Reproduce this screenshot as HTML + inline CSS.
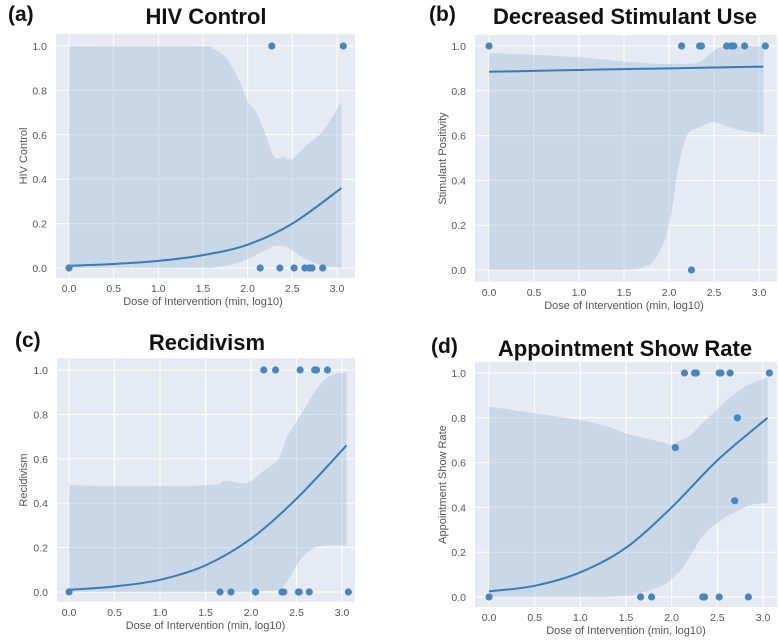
<!DOCTYPE html>
<html><head><meta charset="utf-8"><style>
body{margin:0;background:#fff;width:778px;height:643px;overflow:hidden;font-family:"Liberation Sans",sans-serif}
svg{display:block}
</style></head><body>
<svg id="fig" width="778" height="643" xmlns="http://www.w3.org/2000/svg"></svg>
<script>
// Shared
const xTicks=[0,0.5,1,1.5,2,2.5,3];
const yTicks=[0,0.2,0.4,0.6,0.8,1];
const curveX=[0,0.5,1,1.5,2,2.5,3.05];
// Panel a
const aOnesX=[2.27,3.07];
const aZerosX=[0,2.14,2.36,2.52,2.64,2.69,2.72,2.84];
const aCurve=[0.01,0.018,0.032,0.058,0.105,0.2,0.36];
const aBandX=[0,1.5,1.6,1.75,1.9,2.0,2.1,2.2,2.3,2.4,2.5,2.65,2.85,3.05];
const aUpper=[1,1,0.99,0.95,0.85,0.75,0.7,0.6,0.5,0.5,0.49,0.55,0.62,0.75];
const aLower=[0,0,0.003,0.01,0.025,0.04,0.06,0.08,0.1,0.1,0.08,0.04,0.01,0];
// Panel b
const bOnesX=[0,2.14,2.34,2.36,2.64,2.69,2.72,2.84,3.07];
const bZerosX=[2.25];
const bCurve=[0.885,0.889,0.893,0.897,0.9,0.904,0.908];
const bBandX=[0,1.0,1.5,1.7,1.85,2.0,2.1,2.2,2.35,2.5,2.65,2.85,3.05];
const bUpper=[0.97,0.95,0.93,0.925,0.92,0.92,0.92,0.92,0.93,0.98,1,1,1];
const bLower=[0,0,0,0.01,0.05,0.2,0.45,0.6,0.64,0.66,0.64,0.62,0.61];
// Panel c
const cOnesX=[2.14,2.27,2.54,2.70,2.72,2.84];
const cZerosX=[0,1.66,1.78,2.05,2.34,2.36,2.52,2.53,2.64,3.07];
const cCurve=[0.01,0.025,0.055,0.12,0.24,0.42,0.66];
const cBandX=[0,0.1,1.5,1.7,1.9,2.0,2.15,2.3,2.4,2.55,2.7,2.85,3.05];
const cUpper=[0.49,0.48,0.48,0.5,0.49,0.5,0.55,0.6,0.7,0.8,0.9,0.97,0.99];
const cLower=[0,0,0,0,0,0,0.005,0.01,0.05,0.15,0.2,0.21,0.21];
// Panel d
const dPtsX=[2.14,2.25,2.27,2.52,2.54,2.64,3.07,2.72,2.04,2.69,0,1.66,1.78,2.34,2.36,2.52,2.84];
const dPtsY=[1,1,1,1,1,1,1,0.8,0.667,0.43,0,0,0,0,0,0,0];
const dCurve=[0.025,0.05,0.11,0.22,0.40,0.61,0.80];
const dBandX=[0,0.5,1.0,1.3,1.5,1.6,1.9,2.0,2.1,2.2,2.3,2.4,2.5,2.6,2.7,2.8,2.85,3.05];
const dUpper=[0.85,0.82,0.79,0.76,0.73,0.72,0.69,0.68,0.7,0.72,0.76,0.8,0.84,0.88,0.91,0.94,0.95,0.98];
const dLower=[0,0,0,0,0.005,0.01,0.05,0.08,0.12,0.18,0.25,0.3,0.33,0.36,0.38,0.4,0.41,0.42];

const NS="http://www.w3.org/2000/svg";
const svg=document.getElementById('fig');
function mk(tag,attrs,parent){const e=document.createElementNS(NS,tag);for(const k in attrs)e.setAttribute(k,attrs[k]);(parent||svg).appendChild(e);return e;}
function smooth(pts){let d='M'+pts[0][0]+','+pts[0][1];for(let i=0;i<pts.length-1;i++){const p0=pts[i-1]||pts[i],p1=pts[i],p2=pts[i+1],p3=pts[i+2]||p2;d+=' C'+(p1[0]+(p2[0]-p0[0])/6)+','+(p1[1]+(p2[1]-p0[1])/6)+' '+(p2[0]-(p3[0]-p1[0])/6)+','+(p2[1]-(p3[1]-p1[1])/6)+' '+p2[0]+','+p2[1];}return d;}

function panel(P){
  const g=mk('g',{});
  
  
  const sx=v=>P.x0+(P.x3-P.x0)*v/3, sy=v=>P.y0+(P.y1-P.y0)*v;
  const bg=mk('rect',{x:P.bx0,y:P.by0,width:P.bx1-P.bx0,height:P.by1-P.by0,fill:'#e6eaf2'},g);
  
  
  xTicks.forEach(t=>{const l=mk('line',{x1:sx(t),x2:sx(t),y1:P.by0,y2:P.by1,stroke:'#fff','stroke-width':1},g);
    
    const tx=mk('text',{x:sx(t),y:P.by1+14,'text-anchor':'middle','font-size':10.5,fill:'#555'},g);tx.textContent=t.toFixed(1);
    });
  yTicks.forEach(t=>{const l=mk('line',{x1:P.bx0,x2:P.bx1,y1:sy(t),y2:sy(t),stroke:'#fff','stroke-width':1},g);
    
    const tx=mk('text',{x:P.bx0-9,y:sy(t)+4,'text-anchor':'end','font-size':10.5,fill:'#555'},g);tx.textContent=t.toFixed(1);
    });
  const up=P.bx.map((x,i)=>[sx(x),sy(P.up[i])]), lo=P.bx.map((x,i)=>[sx(x),sy(P.lo[i])]).reverse();
  let d=smooth(up)+' L'+lo[0][0]+','+lo[0][1]+smooth(lo).replace(/^M[^ C]+/,'')+' Z';
  const band=mk('path',{d:d,fill:'#9ab8d6','fill-opacity':0.38},g);
  
  const line=mk('path',{d:smooth(curveX.map((x,i)=>[sx(x),sy(P.curve[i])])),fill:'none',stroke:'#3b7bb4','stroke-width':2},g);
  
  P.px.forEach((x,i)=>{const c=mk('circle',{cx:sx(x),cy:sy(P.py[i]),r:3.6,fill:'#4a86bb'},g);
    });
  const xl=mk('text',{x:(P.x0+P.x3)/2,y:P.by1+27,'text-anchor':'middle','font-size':11,fill:'#555'},g);xl.textContent='Dose of Intervention (min, log10)';
  
  const yc=(P.by0+P.by1)/2;
  const yl=mk('text',{x:P.ylx,y:yc,'text-anchor':'middle','font-size':11,fill:'#555',transform:'rotate(-90 '+P.ylx+' '+yc+')'},g);yl.textContent=P.ylabel;
  
  const ti=mk('text',{x:P.tx,y:P.ty,'text-anchor':'middle','font-size':22,'font-weight':'bold',fill:'#111'},g);ti.textContent=P.title;
  
  const lb=mk('text',{x:P.lx,y:P.ty-3,'font-size':21,'font-weight':'bold',fill:'#111'},g);lb.textContent=P.label;
  
}
const ones=a=>a.map(()=>1), zeros=a=>a.map(()=>0);
panel({name:'hiv-control',bx0:56,bx1:355,by0:34,by1:278,x0:69,x3:337,y0:268,y1:46,bx:aBandX,up:aUpper,lo:aLower,curve:aCurve,
  px:aOnesX.concat(aZerosX),py:ones(aOnesX).concat(zeros(aZerosX)),ylabel:'HIV Control',ylx:27,title:'HIV Control',tx:206,ty:24,label:'(a)',lx:8});
panel({name:'stimulant-use',bx0:475,bx1:777,by0:35,by1:282,x0:489,x3:759,y0:270,y1:46,bx:bBandX,up:bUpper,lo:bLower,curve:bCurve,
  px:bOnesX.concat(bZerosX),py:ones(bOnesX).concat(zeros(bZerosX)),ylabel:'Stimulant Positivity',ylx:446,title:'Decreased Stimulant Use',tx:625,ty:24,label:'(b)',lx:429});
panel({name:'recidivism',bx0:57,bx1:355,by0:358,by1:602,x0:69,x3:342,y0:592,y1:370,bx:cBandX,up:cUpper,lo:cLower,curve:cCurve,
  px:cOnesX.concat(cZerosX),py:ones(cOnesX).concat(zeros(cZerosX)),ylabel:'Recidivism',ylx:27,title:'Recidivism',tx:207,ty:350,label:'(c)',lx:15});
panel({name:'appointment-show-rate',bx0:475,bx1:777,by0:362,by1:607,x0:489,x3:763,y0:597,y1:373,bx:dBandX,up:dUpper,lo:dLower,curve:dCurve,
  px:dPtsX,py:dPtsY,ylabel:'Appointment Show Rate',ylx:446,title:'Appointment Show Rate',tx:625,ty:356,label:'(d)',lx:431});
</script>
</body></html>
